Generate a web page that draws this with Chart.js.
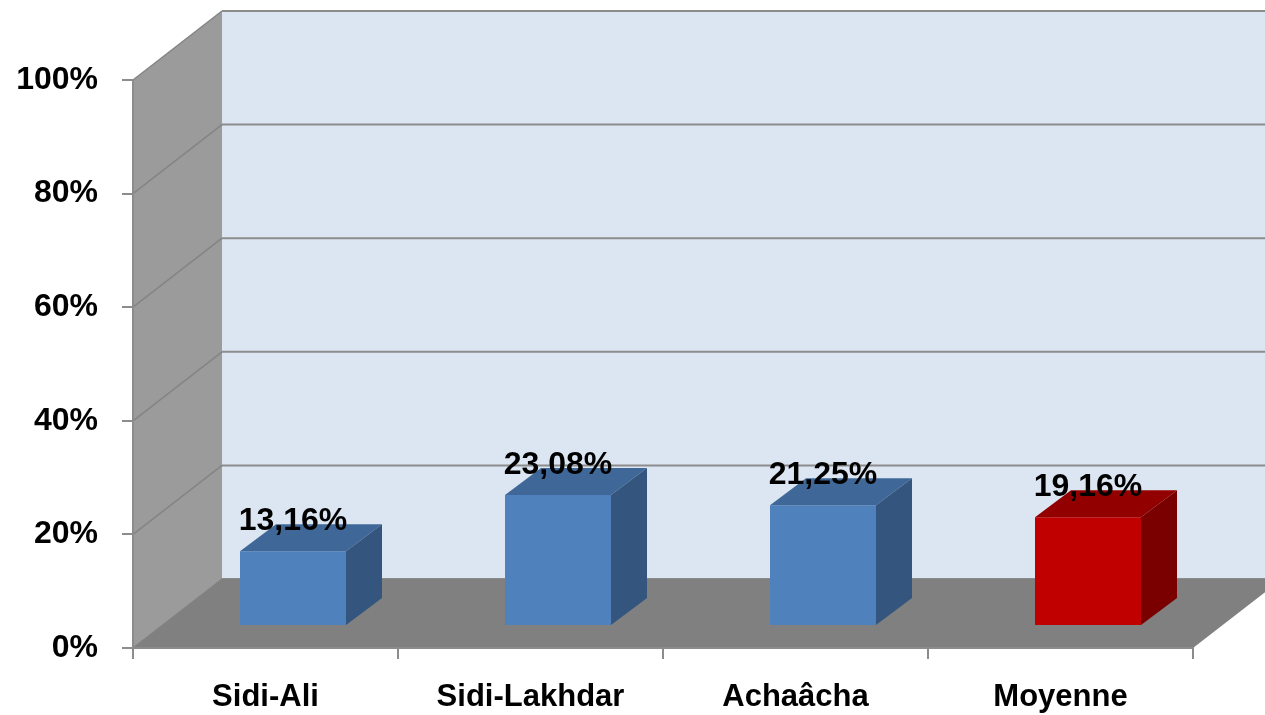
<!DOCTYPE html>
<html>
<head>
<meta charset="utf-8">
<script src="https://cdn.jsdelivr.net/npm/chart.js@4.4.1/dist/chart.umd.min.js"></script>
<style>
  html, body { margin: 0; padding: 0; background: #fff; }
  #wrap { width: 1265px; height: 715px; }
</style>
</head>
<body>
<div id="wrap"><canvas id="chart" width="1265" height="715"></canvas></div>
<script>
const categories = ['Sidi-Ali', 'Sidi-Lakhdar', 'Achaâcha', 'Moyenne'];
const values = [13.16, 23.08, 21.25, 19.16];
const yTicks = [0, 20, 40, 60, 80, 100];

const frontColors = ['#4F81BD', '#4F81BD', '#4F81BD', '#C00000'];
const topColors = ['#3F6797', '#3F6797', '#3F6797', '#930000'];
const sideColors = ['#34557E', '#34557E', '#34557E', '#7A0000'];

// 3D look: wall depth and where the bars sit inside it
const DX = 89, DY = -69;
const BX = 27.5, BY = -22;
const BDX = 36, BDY = -27;

function fmt(v) {
  return v.toFixed(2).replace('.', ',') + '%';
}

function poly(ctx, pts, fill) {
  ctx.beginPath();
  ctx.moveTo(pts[0][0], pts[0][1]);
  for (let i = 1; i < pts.length; i++) ctx.lineTo(pts[i][0], pts[i][1]);
  ctx.closePath();
  ctx.fillStyle = fill;
  ctx.fill();
}

const walls = {
  id: 'walls',
  beforeDraw(chart) {
    const ctx = chart.ctx;
    const a = chart.chartArea;
    const ys = chart.scales.y;
    ctx.save();
    // back wall
    poly(ctx, [[a.left + DX, a.top + DY], [a.right + DX, a.top + DY],
               [a.right + DX, a.bottom + DY], [a.left + DX, a.bottom + DY]], '#DCE6F2');
    // left wall
    poly(ctx, [[a.left, a.top], [a.left + DX, a.top + DY],
               [a.left + DX, a.bottom + DY], [a.left, a.bottom]], '#9B9B9B');
    // grid lines on back and left wall
    yTicks.forEach(v => {
      const y = ys.getPixelForValue(v);
      ctx.strokeStyle = '#8C8C8C';
      ctx.lineWidth = 2;
      ctx.beginPath();
      ctx.moveTo(a.left + DX, y + DY);
      ctx.lineTo(a.right + DX, y + DY);
      ctx.stroke();
      ctx.strokeStyle = '#848484';
      ctx.lineWidth = 1.5;
      ctx.beginPath();
      ctx.moveTo(a.left, y);
      ctx.lineTo(a.left + DX, y + DY);
      ctx.stroke();
    });
    // floor
    poly(ctx, [[a.left, a.bottom], [a.right, a.bottom],
               [a.right + DX, a.bottom + DY], [a.left + DX, a.bottom + DY]], '#808080');
    ctx.restore();
  },
  beforeDatasetsDraw(chart) {
    chart.ctx.save();
    chart.ctx.translate(BX, BY);
  },
  afterDatasetsDraw(chart) {
    const ctx = chart.ctx;
    const meta = chart.getDatasetMeta(0);
    meta.data.forEach((bar, i) => {
      const p = bar.getProps(['x', 'y', 'base', 'width'], true);
      const x1 = p.x - p.width / 2, x2 = p.x + p.width / 2;
      poly(ctx, [[x1, p.y], [x2, p.y], [x2 + BDX, p.y + BDY], [x1 + BDX, p.y + BDY]], topColors[i]);
      poly(ctx, [[x2, p.y], [x2 + BDX, p.y + BDY], [x2 + BDX, p.base + BDY], [x2, p.base]], sideColors[i]);
    });
    ctx.fillStyle = '#000';
    ctx.font = 'bold 32px "Liberation Sans", Arial, sans-serif';
    ctx.textAlign = 'center';
    ctx.textBaseline = 'alphabetic';
    meta.data.forEach((bar, i) => {
      const p = bar.getProps(['x', 'y'], true);
      ctx.fillText(fmt(values[i]), p.x, p.y - 21);
    });
    ctx.restore();
  }
};

window.onload = function () {
  const ctx = document.getElementById('chart').getContext('2d');
  new Chart(ctx, {
    type: 'bar',
    data: {
      labels: categories,
      datasets: [{
        data: values,
        backgroundColor: frontColors,
        borderWidth: 0,
        barPercentage: 0.4,
        categoryPercentage: 1.0
      }]
    },
    options: {
      responsive: false,
      animation: false,
      layout: { padding: { top: 80, right: 72, left: 0, bottom: 0 } },
      plugins: {
        legend: { display: false },
        tooltip: { enabled: false }
      },
      scales: {
        x: {
          grid: { offset: true, drawOnChartArea: false, tickLength: 11, color: '#8C8C8C', lineWidth: 2 },
          border: { display: true, color: '#8C8C8C', width: 2 },
          ticks: {
            color: '#000',
            padding: 20,
            font: { family: '"Liberation Sans", Arial, sans-serif', size: 31, weight: 'bold' }
          },
          afterFit(scale) { scale.height = 67; }
        },
        y: {
          min: 0,
          max: 100,
          afterBuildTicks(scale) { scale.ticks = yTicks.map(v => ({ value: v })); },
          grid: { drawOnChartArea: false, tickLength: 11, color: '#8C8C8C', lineWidth: 2 },
          border: { display: true, color: '#8C8C8C', width: 2 },
          ticks: {
            color: '#000',
            padding: 24,
            font: { family: '"Liberation Sans", Arial, sans-serif', size: 32, weight: 'bold' },
            callback: v => v + '%'
          },
          afterFit(scale) { scale.width = 133; }
        }
      }
    },
    plugins: [walls]
  });
};
</script>
</body>
</html>
